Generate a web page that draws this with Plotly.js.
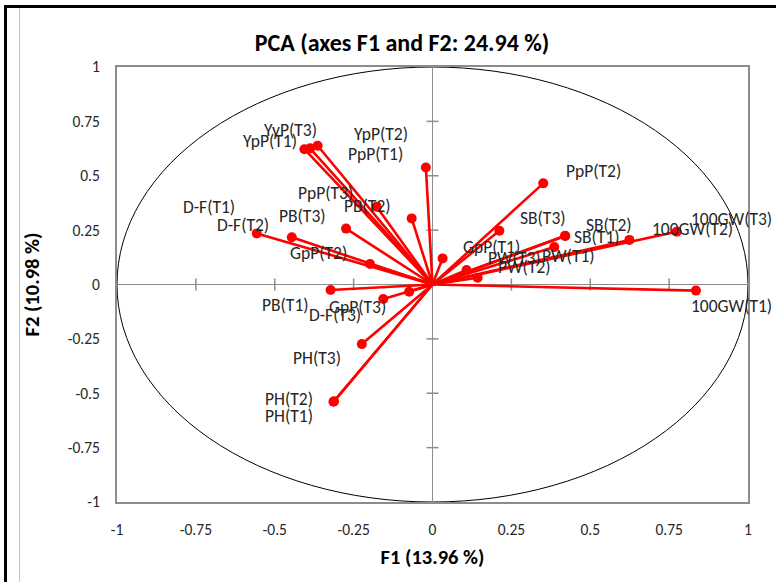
<!DOCTYPE html>
<html>
<head>
<meta charset="utf-8">
<script src="https://cdn.plot.ly/plotly-3.0.1.min.js"></script>
<style>
  html, body { margin: 0; padding: 0; background: #fff; }
  #wrap { position: relative; width: 776px; height: 582px; overflow: hidden; }
  #chart { position: absolute; left: 0; top: 0; width: 776px; height: 582px; }
  .frame { position: absolute; pointer-events: none; }
</style>
</head>
<body>
<div id="wrap">
  <div id="chart"></div>
  <div class="frame" style="left:4px; top:5px; width:3px; height:577px; background:#000;"></div>
  <div class="frame" style="left:4px; top:5px; width:772px; height:3px; background:#000;"></div>
  <div class="frame" style="left:19px; top:8px; width:1px; height:574px; background:#c0c0c0;"></div>
</div>
<script>
// ---- data (variable loadings on F1 / F2) ----
const variables = [
  "YpP(T1)", "YyP(T3)", "YpP(T2)", "PpP(T1)", "PpP(T3)", "PB(T2)", "PB(T3)",
  "D-F(T1)", "D-F(T2)", "GpP(T2)", "PB(T1)", "GpP(T3)", "D-F(T3)", "PH(T3)",
  "PH(T2)", "PH(T1)", "GpP(T1)", "PpP(T2)", "SB(T3)", "SB(T1)", "SB(T2)",
  "PW(T1)", "PW(T3)", "PW(T2)", "100GW(T2)", "100GW(T3)", "100GW(T1)"
];
const f1 = [
  -0.406, -0.388, -0.364, -0.021, -0.177, -0.066, -0.274,
  -0.446, -0.557, -0.198, -0.323, -0.074, -0.156, -0.224,
  -0.314, -0.312, 0.032, 0.351, 0.212, 0.421, 0.420,
  0.386, 0.108, 0.143, 0.624, 0.774, 0.835
];
const f2 = [
  0.622, 0.626, 0.638, 0.538, 0.358, 0.304, 0.257,
  0.217, 0.235, 0.094, -0.025, -0.033, -0.067, -0.274,
  -0.539, -0.537, 0.120, 0.465, 0.247, 0.223, 0.224,
  0.172, 0.067, 0.031, 0.205, 0.243, -0.028
];
const tickVals = [-1, -0.75, -0.5, -0.25, 0, 0.25, 0.5, 0.75, 1];
const tickText = ["-1", "-0.75", "-0.5", "-0.25", "0", "0.25", "0.5", "0.75", "1"];
const chartTitle = "PCA (axes F1 and F2: 24.94 %)";
const xTitle = "F1 (13.96 %)";
const yTitle = "F2 (10.98 %)";

// ---- label placement (pixel offsets of each label centre from its point) ----
const labelDx = [
  -34, -20, 63, -50, -51, -44, -44,
  -83, -14, -52, -45, -52, -48, -45,
  -44, -45, 49, 50, 44, 32, 44,
  14, 48, 47, 63, 55, 36
];
const labelDy = [
  -8, -18, -12, -13, -14, -12, -13,
  -30, -8, -11, 15, 15, 16, 14,
  -3, 15, -11, -12, -13, 1, -11,
  9, -12, -11, -11, -13, 15
];

const FONT = "Carlito, Calibri, Lato, 'Open Sans', sans-serif";
const TXT = "#262626";
const AXC = "#8c8c8c";

// vectors from origin
const lx = [], ly = [];
for (let i = 0; i < variables.length; i++) {
  lx.push(0, f1[i], null);
  ly.push(0, f2[i], null);
}

const traces = [
  {
    type: "scatter", mode: "lines", x: lx, y: ly,
    line: { color: "#ff0000", width: 2.6 },
    hoverinfo: "skip", showlegend: false
  },
  {
    type: "scatter", mode: "markers", x: f1, y: f2, text: variables,
    marker: { color: "#ff0000", size: 10 },
    hoverinfo: "text", showlegend: false
  }
];

const annotations = variables.map((v, i) => ({
  x: f1[i], y: f2[i], xref: "x", yref: "y",
  text: v, showarrow: false,
  xanchor: "center", yanchor: "middle",
  xshift: labelDx[i], yshift: -labelDy[i],
  font: { family: FONT, size: 17.5, color: TXT }
}));

const shapes = [
  { type: "circle", xref: "x", yref: "y", x0: -1, y0: -1, x1: 1, y1: 1,
    line: { color: "#000", width: 1 }, layer: "below" }
];
tickVals.forEach(t => {
  if (t === 0 || Math.abs(t) === 1) return;
  shapes.push({ type: "line", xref: "x", yref: "y", ysizemode: "pixel", yanchor: 0,
    x0: t, x1: t, y0: -6, y1: 6, line: { color: AXC, width: 1.5 }, layer: "below" });
  shapes.push({ type: "line", xref: "x", yref: "y", xsizemode: "pixel", xanchor: 0,
    y0: t, y1: t, x0: -6, x1: 6, line: { color: AXC, width: 1.5 }, layer: "below" });
});

const axisCommon = {
  range: [-1, 1], tickmode: "array", tickvals: tickVals, ticktext: tickText,
  showgrid: false, zeroline: true, zerolinecolor: AXC, zerolinewidth: 1.5,
  showline: true, mirror: true, linecolor: AXC, linewidth: 2,
  ticks: "", ticklabelstandoff: 12, automargin: false,
  tickfont: { family: FONT, size: 15.5, color: TXT }
};

const layout = {
  width: 776, height: 582,
  margin: { l: 117, r: 28, t: 67, b: 80 },
  paper_bgcolor: "#fff", plot_bgcolor: "#fff",
  font: { family: FONT, color: TXT },
  title: {
    text: "<b>" + chartTitle + "</b>",
    x: 402 / 776, xref: "container", xanchor: "center",
    y: 1 - 43 / 582, yref: "container", yanchor: "middle",
    font: { family: FONT, size: 24, color: "#000" }
  },
  xaxis: Object.assign({}, axisCommon, {
    title: { text: "<b>" + xTitle + "</b>", standoff: 12,
      font: { family: FONT, size: 20.5, color: "#000" } }
  }),
  yaxis: Object.assign({}, axisCommon, {
    title: { text: "<b>" + yTitle + "</b>", standoff: 22,
      font: { family: FONT, size: 20.5, color: "#000" } }
  }),
  shapes: shapes,
  annotations: annotations,
  showlegend: false
};

Plotly.newPlot("chart", traces, layout, { displayModeBar: false, staticPlot: true });
</script>
</body>
</html>
